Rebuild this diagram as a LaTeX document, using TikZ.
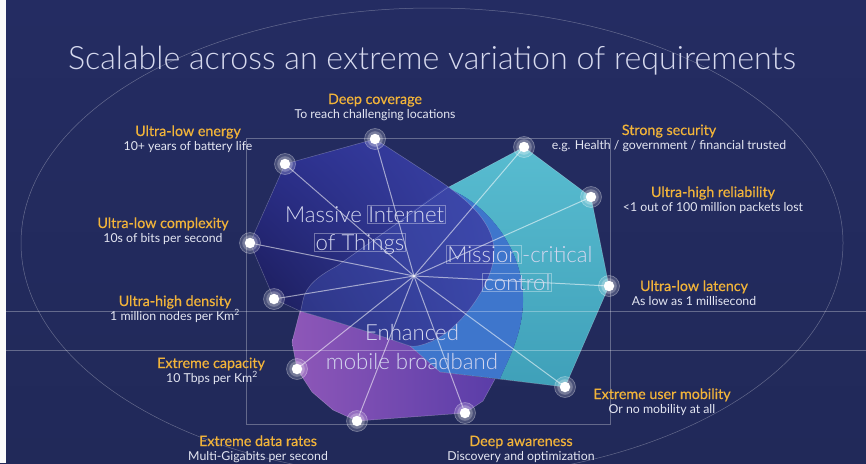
\documentclass[tikz,border=0pt]{standalone}
\usepackage{fontspec}
\usetikzlibrary{shadings}
\setmainfont{Lato}
\newfontfamily\lightfont{Lato Light}
\newfontfamily\headfont{Lato}[BoldFont=Lato, BoldFeatures={FakeBold=0.4}]

\definecolor{bgtop}{HTML}{242C62}
\definecolor{bgmid}{HTML}{2A3180}
\definecolor{bgbot}{HTML}{212959}
\definecolor{tealtop}{HTML}{58BCD0}
\definecolor{tealbot}{HTML}{3FA0B9}
\definecolor{bandblue}{HTML}{3E76CC}
\definecolor{purpleL}{HTML}{8E57B8}
\definecolor{purpleR}{HTML}{5A3DA8}
\definecolor{mmtcUL}{HTML}{2C308F}
\definecolor{mmtcUR}{HTML}{3A42A6}
\definecolor{mmtcLL}{HTML}{17174C}
\definecolor{mmtcLR}{HTML}{3640A2}
\definecolor{embbblue}{HTML}{4454B8}
\definecolor{gold}{HTML}{F1B33A}
\definecolor{subtext}{HTML}{E4E6F2}
\definecolor{titletext}{HTML}{D6D9EE}
\definecolor{regiontext}{HTML}{D4D7EF}

\pgfdeclarelayer{shapes}
\pgfdeclarelayer{lines}
\pgfsetlayers{shapes,lines,main}

\begin{document}
\begin{tikzpicture}[x=1pt,y=-1pt,
  head/.style={text=gold, font=\headfont\bfseries\fontsize{14.3}{17}\selectfont, inner sep=0pt, anchor=base},
  sub/.style={text=subtext, font=\fontsize{12.3}{15}\selectfont, inner sep=0pt, anchor=base},
  region/.style={text=regiontext, font=\lightfont\fontsize{22.2}{26}\selectfont, inner sep=0pt, anchor=base},
  boxed/.style={draw=white, draw opacity=.35, line width=.5pt, inner sep=1pt, text height=16pt, text depth=0pt},
  dot/.style={circle, fill=white, inner sep=0pt, minimum size=10.5pt},
  spoke/.style={white, opacity=.55, line width=1pt},
  edge/.style={white, opacity=.28, line width=.5pt},
  guide/.style={white, opacity=.3, line width=.5pt}]

\useasboundingbox (0,0) rectangle (866,463);
\clip (0,0) rectangle (866,463);

% requirement points
\node[dot] (energy) at (285,164) {};
\node[dot] (coverage) at (375,139) {};
\node[dot] (security) at (524,147) {};
\node[dot] (reliability) at (591,197) {};
\node[dot] (latency) at (609,286) {};
\node[dot] (mobility) at (565,387) {};
\node[dot] (awareness) at (465,413) {};
\node[dot] (datarate) at (357,421) {};
\node[dot] (capacity) at (297,369) {};
\node[dot] (density) at (274,299) {};
\node[dot] (complexity) at (250,243) {};
\coordinate (hub) at (414,276);

\begin{pgfonlayer}{shapes}
  % backdrop
  \shade[top color=bgtop, middle color=bgmid, bottom color=bgbot] (0,0) rectangle (866,463);
  \fill[white!96!gray] (0,0) rectangle (6,463);
  \draw[guide] (432,243) ellipse [x radius=411, y radius=235];

  % mission-critical control
  \shade[top color=tealtop, bottom color=tealbot]
    (security.center) -- (reliability.center) -- (latency.center) -- (mobility.center)
    -- (500,379) .. controls (505,365) and (524,335) .. (523,297)
    .. controls (522,250) and (490,205) .. (447,188) -- cycle;
  \fill[bandblue]
    (447,188) .. controls (490,205) and (522,250) .. (523,297)
    .. controls (524,335) and (505,365) .. (500,379)
    -- (440,372) -- (410,346) -- (420,250) -- cycle;

  % enhanced mobile broadband
  \shade[left color=purpleL, right color=purpleR]
    (300,311) -- (340,323) -- (378,335) -- (410,346) -- (440,372) -- (495,379)
    -- (483,401) -- (awareness.center) -- (datarate.center) -- (333,410)
    -- (312,392) -- (capacity.center) -- (292,342) -- cycle;

  % massive internet of things
  \shade[upper left=mmtcUL, upper right=mmtcUR, lower left=mmtcLL, lower right=mmtcLR]
    (energy.center) -- (coverage.center) -- (432,176)
    .. controls (470,200) and (496,225) .. (494,255)
    .. controls (492,285) and (460,330) .. (430,342)
    .. controls (420,346) and (414,347) .. (410,346)
    -- (378,335) -- (340,323) -- (300,311) -- (density.center) -- (complexity.center) -- cycle;
  \begin{scope}
    \clip (energy.center) -- (coverage.center) -- (432,176)
      .. controls (470,200) and (496,225) .. (494,255)
      .. controls (492,285) and (460,330) .. (430,342)
      .. controls (420,346) and (414,347) .. (410,346)
      -- (378,335) -- (340,323) -- (300,311) -- (density.center) -- (complexity.center) -- cycle;
    \fill[embbblue, opacity=.4]
      (300,314) -- (303,300) .. controls (306,285) and (320,275) .. (337,266)
      -- (447,186) -- (530,186) -- (530,360) -- (410,350) -- cycle;
  \end{scope}

  % outlines
  \draw[edge] (energy.center) -- (coverage.center) -- (432,176)
    .. controls (470,200) and (496,225) .. (494,255)
    .. controls (492,285) and (460,330) .. (430,342)
    .. controls (420,346) and (414,347) .. (410,346);
  \draw[edge] (energy.center) -- (complexity.center) -- (density.center)
    -- (300,311) -- (340,323) -- (378,335) -- (410,346) -- (440,372);
  \draw[edge] (300,314) -- (303,300) .. controls (306,285) and (320,275) .. (337,266) -- (447,188);
  \draw[edge] (447,188) -- (security.center) -- (reliability.center) -- (latency.center)
    -- (mobility.center) -- (440,372);
  \draw[edge] (300,311) -- (292,342) -- (capacity.center) -- (312,392) -- (333,410)
    -- (datarate.center) -- (awareness.center) -- (483,401) -- (495,379);
\end{pgfonlayer}

\begin{pgfonlayer}{lines}
  % frame and guide lines
  \draw[guide] (6,311) -- (866,311);
  \draw[guide] (6,350) -- (866,350);
  \draw[guide] (246,138) rectangle (610,424);

  % spokes
  \foreach \n in {energy,coverage,security,reliability,latency,mobility,awareness,datarate,capacity,density,complexity}
    \draw[spoke] (hub) -- (\n);

  % halos round the points
  \foreach \n in {energy,coverage,security,reliability,latency,mobility,awareness,datarate,capacity,density,complexity}{
    \fill[white, opacity=.18] (\n.center) circle [radius=10.5];
    \draw[white, opacity=.35, line width=.6pt] (\n.center) circle [radius=10.5];
    \fill[white, opacity=.25] (\n.center) circle [radius=7.8];
  }
\end{pgfonlayer}

% title
\node[font=\lightfont\fontsize{32.2}{37}\selectfont, text=titletext, inner sep=0pt, anchor=base]
  (title) at (432,69) {Scalable across an extreme variation of requirements};

% region names
\node[region, anchor=base east] (massive) at (362,222) {Massive};
\node[region, boxed, anchor=base west] (internet) at (367,222) {Internet};
\node[region, boxed] (things) at (360,250) {of Things};
\node[region, boxed, anchor=base west] (mission) at (446,262) {Mission};
\node[region, anchor=base west] (critical) at (mission.base east) {-critical};
\node[region, boxed] (control) at (517,290) {control};
\node[region] (enhanced) at (412,340) {Enhanced};
\node[region] (broadband) at (412,369) {mobile broadband};

% requirement labels
\node[head] (coverage-h) at (375,104) {Deep coverage};
\node[sub] (coverage-s) at (375,118) {To reach challenging locations};
\node[head] (energy-h) at (188,136) {Ultra-low energy};
\node[sub] (energy-s) at (188,150) {10+ years of battery life};
\node[head] (complexity-h) at (163,228) {Ultra-low complexity};
\node[sub] (complexity-s) at (163,242) {10s of bits per second};
\node[head] (density-h) at (175,306) {Ultra-high density};
\node[sub] (density-s) at (175,320) {1 million nodes per Km\textsuperscript{2}};
\node[head] (capacity-h) at (211,368) {Extreme capacity};
\node[sub] (capacity-s) at (212,382) {10 Tbps per Km\textsuperscript{2}};
\node[head] (datarate-h) at (258,446) {Extreme data rates};
\node[sub] (datarate-s) at (258,460) {Multi-Gigabits per second};
\node[head] (awareness-h) at (521,446) {Deep awareness};
\node[sub] (awareness-s) at (521,460) {Discovery and optimization};
\node[head] (mobility-h) at (662,399) {Extreme user mobility};
\node[sub] (mobility-s) at (662,413) {Or no mobility at all};
\node[head] (latency-h) at (694,291) {Ultra-low latency};
\node[sub] (latency-s) at (694,305) {As low as 1 millisecond};
\node[head] (reliability-h) at (713,197) {Ultra-high reliability};
\node[sub] (reliability-s) at (713,211) {<1 out of 100 million packets lost};
\node[head] (security-h) at (669,135) {Strong security};
\node[sub] (security-s) at (669,149) {e.g. Health / government / financial trusted};
\end{tikzpicture}
\end{document}
